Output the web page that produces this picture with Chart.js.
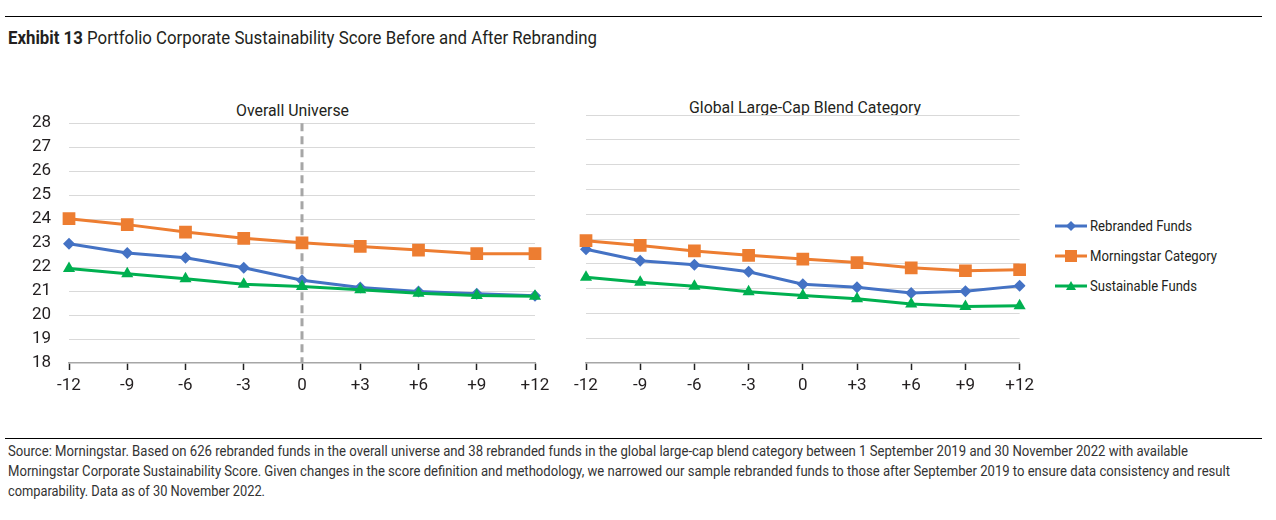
<!DOCTYPE html>
<html>
<head>
<meta charset="utf-8">
<script src="https://cdn.jsdelivr.net/npm/chart.js@4.4.0/dist/chart.umd.min.js"></script>
<style>
  body { margin: 0; background: #fff; width: 1276px; height: 520px; overflow: hidden; position: relative;
         font-family: Roboto, sans-serif; color: #231f20; }
  .rule { position: absolute; left: 5px; width: 1257px; height: 1px; background: #000; }
  .fit { position: absolute; white-space: nowrap; transform-origin: 0 50%; }
  #title { left: 8px; top: 27px; font-size: 18px; }
  #title b { font-weight: 700; }
  .panel-title { font-size: 16px; }
  canvas { position: absolute; }
  .legend-row { position: absolute; left: 1055px; display: flex; align-items: center; height: 20px; }
  .legend-row span { display: inline-block; white-space: nowrap; transform-origin: 0 50%; font-size: 15px; }
  .foot { left: 8px; font-size: 15px; line-height: 18px; color: #333; }
</style>
</head>
<body>
<div class="rule" style="top:16px"></div>
<div id="title" class="fit" data-w="589"><b>Exhibit 13</b> Portfolio Corporate Sustainability Score Before and After Rebranding</div>

<div class="fit panel-title" data-w="113" style="left:236px; top:101px">Overall Universe</div>
<div class="fit panel-title" data-w="232" style="left:689px; top:98px">Global Large-Cap Blend Category</div>

<canvas id="left" width="560" height="305" style="left:0; top:95px"></canvas>
<canvas id="right" width="480" height="310" style="left:560px; top:90px"></canvas>

<div id="legend"></div>

<div class="rule" style="top:438px"></div>
<div class="fit foot" data-w="1180" style="top:442px">Source: Morningstar. Based on 626 rebranded funds in the overall universe and 38 rebranded funds in the global large-cap blend category between 1 September 2019 and 30 November 2022 with available</div>
<div class="fit foot" data-w="1222" style="top:462px">Morningstar Corporate Sustainability Score. Given changes in the score definition and methodology, we narrowed our sample rebranded funds to those after September 2019 to ensure data consistency and result</div>
<div class="fit foot" data-w="257" style="top:482px">comparability. Data as of 30 November 2022.</div>

<script>
// months relative to rebranding
const months = ['-12', '-9', '-6', '-3', '0', '+3', '+6', '+9', '+12'];
const yTicks = [18, 19, 20, 21, 22, 23, 24, 25, 26, 27, 28];

// Overall Universe
const overallRebranded   = [22.97, 22.59, 22.39, 21.97, 21.45, 21.15, 20.98, 20.89, 20.80];
const overallCategory    = [24.02, 23.77, 23.46, 23.20, 23.01, 22.86, 22.71, 22.56, 22.56];
const overallSustainable = [21.94, 21.72, 21.51, 21.28, 21.19, 21.05, 20.91, 20.81, 20.78];

// Global Large-Cap Blend Category
const globalRebranded   = [22.59, 22.12, 21.96, 21.68, 21.18, 21.05, 20.82, 20.89, 21.11];
const globalCategory    = [22.93, 22.74, 22.52, 22.34, 22.19, 22.05, 21.84, 21.72, 21.76];
const globalSustainable = [21.46, 21.26, 21.09, 20.87, 20.72, 20.59, 20.38, 20.28, 20.31];

const seriesNames = ['Rebranded Funds', 'Morningstar Category', 'Sustainable Funds'];
const seriesColors = ['#4472c4', '#ed7d31', '#00b050'];
const seriesMarkers = ['rectRot', 'rect', 'triangle'];
const markerSizes = [6, 9, 7];
const legendWidths = [102, 127, 107];

const FONT = 'Roboto, sans-serif';

// dashed line at month 0 (rebranding date), drawn under the series
const rebrandLine = {
    id: 'rebrandLine',
    beforeDatasetsDraw(chart, args, opts) {
        if (!opts.show) return;
        const { ctx, chartArea, scales } = chart;
        const x = scales.x.getPixelForValue(months.indexOf('0'));
        ctx.save();
        ctx.strokeStyle = '#a6a6a6';
        ctx.lineWidth = 3;
        ctx.setLineDash([8, 5]);
        ctx.beginPath();
        ctx.moveTo(x, chartArea.top);
        ctx.lineTo(x, chartArea.bottom);
        ctx.stroke();
        ctx.restore();
    }
};

function makePanel(id, values, { yWidth, showY, padding, dashed }) {
    const datasets = values.map((data, i) => ({
        label: seriesNames[i],
        data,
        borderColor: seriesColors[i],
        backgroundColor: seriesColors[i],
        borderWidth: 3,
        pointStyle: seriesMarkers[i],
        pointRadius: markerSizes[i],
        pointHoverRadius: markerSizes[i],
        pointBorderWidth: 0,
        tension: 0,
        order: [2, 1, 0][i]
    }));

    return new Chart(document.getElementById(id), {
        type: 'line',
        data: { labels: months, datasets },
        plugins: [rebrandLine],
        options: {
            responsive: false,
            animation: false,
            layout: { padding },
            plugins: {
                legend: { display: false },
                tooltip: { enabled: false },
                rebrandLine: { show: dashed }
            },
            scales: {
                x: {
                    offset: false,
                    grid: { drawOnChartArea: false, drawTicks: true, tickLength: 7, tickColor: '#222', tickWidth: 1.5 },
                    border: { color: '#a6a6a6', width: 1.5 },
                    ticks: { font: { family: FONT, size: 17 }, color: '#231f20', padding: 6, maxRotation: 0, autoSkip: false },
                    afterFit: s => { s.height = 37; }
                },
                y: {
                    min: yTicks[0],
                    max: yTicks[yTicks.length - 1],
                    afterBuildTicks: s => { s.ticks = yTicks.map(v => ({ value: v })); },
                    grid: {
                        drawTicks: false,
                        color: c => c.tick && c.tick.value === yTicks[0] ? 'rgba(0,0,0,0)' : '#d9d9d9'
                    },
                    border: { display: false },
                    ticks: { display: showY, font: { family: FONT, size: 17 }, color: '#231f20', padding: 18 },
                    afterFit: s => { s.width = yWidth; }
                }
            }
        }
    });
}

makePanel('left', [overallRebranded, overallCategory, overallSustainable],
    { yWidth: 69, showY: true, padding: { top: 24, right: 25, left: 0, bottom: 0 }, dashed: true });
makePanel('right', [globalRebranded, globalCategory, globalSustainable],
    { yWidth: 26, showY: false, padding: { top: 25, right: 19, left: 0, bottom: 0 }, dashed: false });

// legend: line with marker in the middle
function markerSvg(i) {
    const c = seriesColors[i];
    let m = '';
    if (seriesMarkers[i] === 'rectRot') m = `<polygon points="16,5 21,10 16,15 11,10" fill="${c}"/>`;
    if (seriesMarkers[i] === 'rect') m = `<rect x="10" y="4" width="12" height="12" fill="${c}"/>`;
    if (seriesMarkers[i] === 'triangle') m = `<polygon points="16,5 21,14 11,14" fill="${c}"/>`;
    return `<svg width="32" height="20" style="margin-right:3px"><line x1="0" y1="10" x2="32" y2="10" stroke="${c}" stroke-width="3"/>${m}</svg>`;
}
document.getElementById('legend').innerHTML = seriesNames
    .map((name, i) => `<div class="legend-row" style="top:${216 + i * 30}px">${markerSvg(i)}<span data-w="${legendWidths[i]}">${name}</span></div>`)
    .join('');

// squeeze the text horizontally to the condensed widths of the original
document.querySelectorAll('[data-w]').forEach(el => {
    const w = el.getBoundingClientRect().width;
    el.style.transform = `scaleX(${el.dataset.w / w})`;
});
</script>
</body>
</html>
